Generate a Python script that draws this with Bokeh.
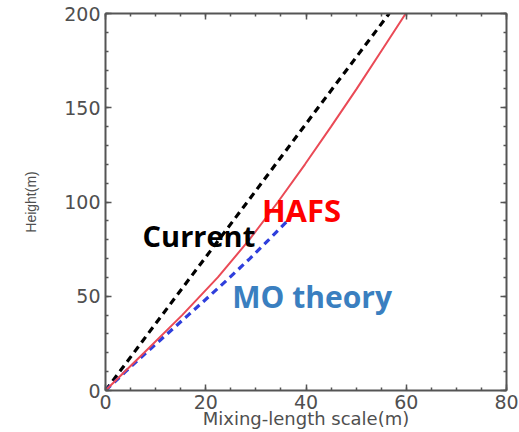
from bokeh.plotting import figure
from bokeh.models import LinearAxis, Range1d, FixedTicker
from bokeh.core.properties import value
from bokeh.embed import file_html
from bokeh.resources import INLINE

# Mixing-length profiles (m) against height (m)
height_current = [0, 50, 100, 150, 200]
mix_current = [0, 14.1, 28.3, 42.4, 56.6]

height_hafs = [0, 20, 40, 60, 80, 100, 120, 140, 160, 180, 200]
mix_hafs = [0, 7.7, 15.3, 22.4, 28.7, 34.4, 39.8, 45.0, 50.1, 55.0, 59.9]

height_mo = [0, 10, 20, 30, 40, 50, 60, 70, 80, 90]
mix_mo = [0, 4.0, 8.1, 12.3, 16.5, 20.7, 24.8, 28.8, 32.6, 36.3]

x_major = [0, 20, 40, 60, 80]
x_minor = list(range(0, 81, 5))
y_major = [0, 50, 100, 150, 200]
y_minor = list(range(0, 201, 10))

AXIS_COLOR = "#555555"
LABEL_COLOR = "#4f4f4f"

p = figure(width=519, height=432, output_backend="svg", toolbar_location=None,
           x_range=Range1d(0, 80), y_range=Range1d(0, 200),
           x_axis_location=None, y_axis_location=None,
           min_border_left=105, min_border_right=13,
           min_border_top=13, min_border_bottom=42)
p.outline_line_color = None
p.xgrid.visible = False
p.ygrid.visible = False
p.background_fill_color = "white"
p.border_fill_color = "white"


def style_axis(ax, ticks, labels=True):
    ax.axis_line_color = AXIS_COLOR
    ax.axis_line_width = 2
    ax.major_tick_line_color = AXIS_COLOR
    ax.minor_tick_line_color = AXIS_COLOR
    ax.major_tick_line_width = 1.5
    ax.minor_tick_line_width = 1.5
    ax.major_tick_in = 6
    ax.major_tick_out = 0
    ax.minor_tick_in = 3
    ax.minor_tick_out = 0
    if labels:
        ax.major_label_text_font = "DejaVu Sans"
        ax.major_label_text_font_size = "19px"
        ax.major_label_text_color = LABEL_COLOR
    else:
        # mirrored axes carry ticks only
        ax.major_label_overrides = {t: "" for t in ticks}
        ax.major_label_standoff = 0


xt = FixedTicker(ticks=x_major, minor_ticks=x_minor)
yt = FixedTicker(ticks=y_major, minor_ticks=y_minor)

bottom = LinearAxis(ticker=xt, axis_label="Mixing-length scale(m)")
style_axis(bottom, x_major)
bottom.major_label_standoff = 4
bottom.axis_label_standoff = -4
bottom.axis_label_text_font = "DejaVu Sans"
bottom.axis_label_text_font_size = "18px"
bottom.axis_label_text_font_style = "normal"
bottom.axis_label_text_color = LABEL_COLOR

left = LinearAxis(ticker=yt, axis_label="Height(m)")
style_axis(left, y_major)
left.major_label_standoff = 5
left.axis_label_standoff = 22
left.axis_label_text_font = "Liberation Sans"
left.axis_label_text_font_size = "14px"
left.axis_label_text_font_style = "normal"
left.axis_label_text_color = LABEL_COLOR

top = LinearAxis(ticker=xt)
style_axis(top, x_major, labels=False)
right = LinearAxis(ticker=yt)
style_axis(right, y_major, labels=False)

p.add_layout(bottom, "below")
p.add_layout(left, "left")
p.add_layout(top, "above")
p.add_layout(right, "right")

p.line(mix_current, height_current, line_color="black", line_width=3.2,
       line_dash="7 5")
p.line(mix_mo, height_mo, line_color="#2f3fdc", line_width=3.2,
       line_dash="7 5")
p.line(mix_hafs, height_hafs, line_color="#ea4a56", line_width=2)

label_font = value("Open Sans")
p.text(x=[7.4], y=[82.0], text=["Current"], text_font=label_font,
       text_font_size="29px", text_font_style="bold", text_color="black",
       text_align="left", text_baseline="alphabetic")
p.text(x=[31.2], y=[95.8], text=["HAFS"], text_font=label_font,
       text_font_size="31px", text_font_style="bold", text_color="#ff0000",
       text_align="left", text_baseline="alphabetic")
p.text(x=[25.3], y=[50.0], text=["MO theory"], text_font=label_font,
       text_font_size="30px", text_font_style="bold", text_color="#3a7fc0",
       text_align="left", text_baseline="alphabetic")

open("out.html", "w").write(file_html(p, INLINE))
